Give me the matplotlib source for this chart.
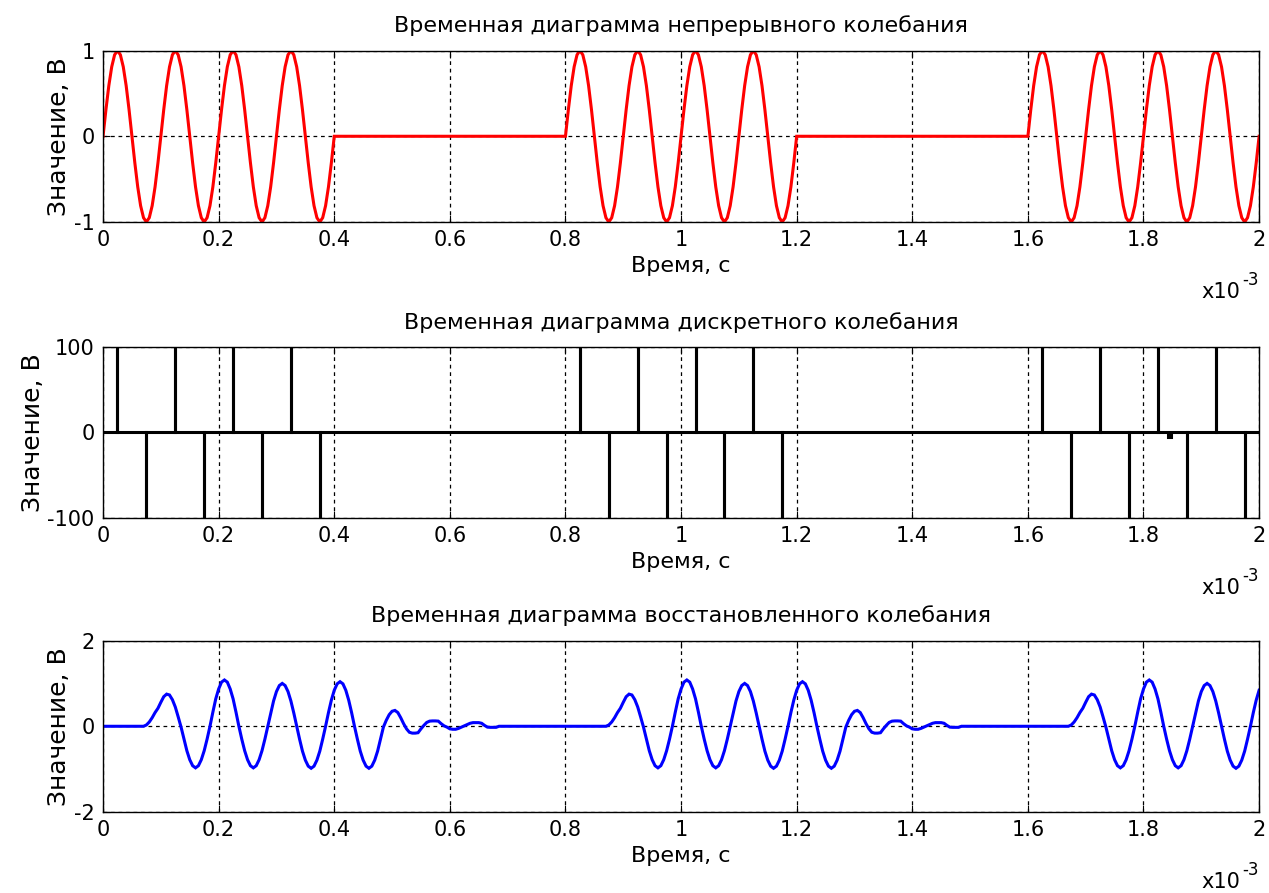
import numpy as np
import matplotlib
matplotlib.use('Agg')
import matplotlib.pyplot as plt

## Data (time in ms, shown with x10^-3 on the axis)
burst_starts = [0.0, 0.8, 1.6]          # starts of the three bursts
step = 0.005                            # sample step, ms

# one period of the continuous signal (20 samples per 0.1 ms)
sine_period = [0, .31, .59, .81, .95, 1, .95, .81, .59, .31,
               0, -.31, -.59, -.81, -.95, -1, -.95, -.81, -.59, -.31]

# discrete signal: pulse times inside a burst and their heights
pulse_t = [0.025, 0.075, 0.125, 0.175, 0.225, 0.275, 0.325, 0.375]
pulse_v = [100, -100, 100, -100, 100, -100, 100, -100]
blip_t = 1.845
blip_v = -5

# recovered signal after one burst, starting 0.070 ms after burst start
rec_start = 0.070
rec_burst = [
    0.00, 0.03, 0.10, 0.20, 0.32, 0.42, 0.56, 0.69, 0.75, 0.73,
    0.62, 0.45, 0.22, -0.02, -0.30, -0.57, -0.78, -0.92, -0.97, -0.92,
    -0.78, -0.57, -0.30, 0.00, 0.33, 0.64, 0.87, 1.03, 1.08, 1.03,
    0.87, 0.64, 0.33, 0.00, -0.30, -0.57, -0.78, -0.92, -0.97, -0.92,
    -0.78, -0.57, -0.30, 0.00, 0.31, 0.59, 0.81, 0.95, 1.00, 0.95,
    0.81, 0.59, 0.31, 0.00, -0.30, -0.58, -0.79, -0.93, -0.98, -0.93,
    -0.79, -0.58, -0.30, 0.00, 0.32, 0.61, 0.84, 0.99, 1.04, 0.99,
    0.84, 0.61, 0.32, 0.00, -0.30, -0.58, -0.79, -0.93, -0.98, -0.93,
    -0.79, -0.58, -0.30, -0.02, 0.14, 0.27, 0.35, 0.37, 0.32, 0.20,
    0.06, -0.06, -0.14, -0.16, -0.16, -0.15, -0.06, 0.02, 0.09, 0.12,
    0.125, 0.125, 0.12, 0.06, 0.01, -0.02, -0.06, -0.07, -0.07, -0.05,
    -0.02, 0.01, 0.04, 0.07, 0.085, 0.085, 0.085, 0.07, 0.02, -0.02,
    -0.025, -0.025, -0.025, 0.00]

titles = ['Временная диаграмма непрерывного колебания',
          'Временная диаграмма дискретного колебания',
          'Временная диаграмма восстановленного колебания']
xlab = 'Время, с'
ylab = 'Значение, В'
xticks = [0, 0.2, 0.4, 0.6, 0.8, 1.0, 1.2, 1.4, 1.6, 1.8, 2.0]
yticks = [[-1, 0, 1], [-100, 0, 100], [-2, 0, 2]]

## Build the three curves
burst = sine_period * 4 + [0]
t1, y1 = [0.0], [0.0]
for s in burst_starts:
    for i, v in enumerate(burst):
        t1.append(s + i * step)
        y1.append(v)
t1.append(2.0); y1.append(0.0)

t2, y2 = [0.0], [0.0]
for s in burst_starts:
    for pt, pv in zip(pulse_t, pulse_v):
        tt = s + pt
        t2 += [tt, tt, tt]
        y2 += [0, pv, 0]
        if s == 1.6 and pt == 0.225:
            t2 += [blip_t - 0.002, blip_t - 0.002, blip_t + 0.002, blip_t + 0.002]
            y2 += [0, blip_v, blip_v, 0]
t2.append(2.0); y2.append(0.0)

t3, y3 = [0.0], [0.0]
for s in burst_starts:
    for i, v in enumerate(rec_burst):
        tt = s + rec_start + i * step
        if tt <= 2.0 + 1e-9:
            t3.append(tt)
            y3.append(v)
if t3[-1] < 2.0:
    t3.append(2.0); y3.append(y3[-1])

## Plot
plt.rcParams['font.family'] = ['DejaVu Sans']
plt.rcParams['axes.unicode_minus'] = False
fig = plt.figure(figsize=(12.69, 8.93), dpi=100)
left, width, height = 0.0812, 0.911, 0.1920
bottoms = [0.7514, 0.4199, 0.0907]
curves = [(t1, y1, 'red'), (t2, y2, 'black'), (t3, y3, 'blue')]

for k in range(3):
    ax = fig.add_axes([left, bottoms[k], width, height])
    t, y, c = curves[k]
    ax.plot(t, y, color=c, lw=2.2, solid_joinstyle='miter')
    ax.set_xlim(0, 2)
    ax.set_ylim(yticks[k][0], yticks[k][-1])
    ax.set_xticks(xticks)
    ax.set_xticklabels(['%g' % v for v in xticks])
    ax.set_yticks(yticks[k])
    ax.set_yticklabels(['%g' % v for v in yticks[k]])
    ax.grid(True, color='black', linestyle=(0, (3, 3)), linewidth=0.9)
    ax.tick_params(direction='in', top=True, right=True, length=5,
                   labelsize=15, pad=6)
    for sp in ax.spines.values():
        sp.set_linewidth(1.0)
    ax.set_title(titles[k], fontsize=16, pad=13)
    ax.set_xlabel(xlab, fontsize=16, labelpad=4)
    ax.set_ylabel(ylab, fontsize=18, labelpad=2)
    ax.text(0.984, -0.41, 'x10', transform=ax.transAxes,
            ha='right', va='center', fontsize=15)
    ax.text(0.985, -0.34, '-3', transform=ax.transAxes,
            ha='left', va='center', fontsize=12)

fig.savefig('out.png', dpi=100)
